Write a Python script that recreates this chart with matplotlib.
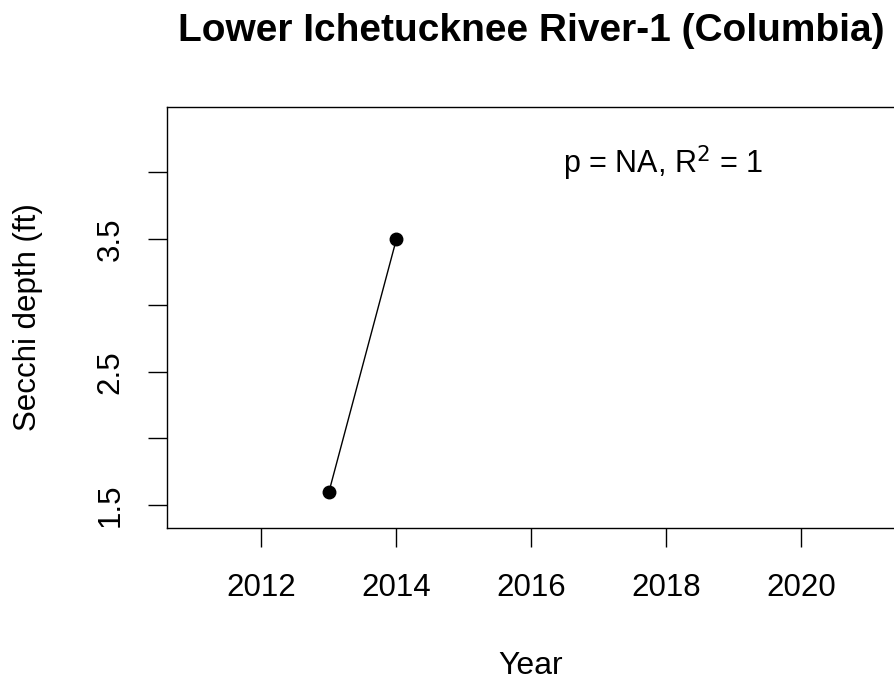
import matplotlib
matplotlib.use("Agg")
import matplotlib.pyplot as plt

years = [2013, 2014]
secchi = [1.6, 3.5]

x_ticks = [2012, 2014, 2016, 2018, 2020]
y_ticks = [1.5, 2.0, 2.5, 3.0, 3.5, 4.0]
y_labels = ["1.5", "", "2.5", "", "3.5", ""]

plt.rcParams['font.family'] = ['Liberation Sans', 'DejaVu Sans']

fig = plt.figure(figsize=(8.95, 6.82), dpi=100)
# axes box: left 167px, top 107px, bottom 528px, right ~896px
ax = fig.add_axes([167/895, 1 - 528/682, (896 - 167)/895, (528 - 107)/682])

ax.plot(years, secchi, '-', color='black', linewidth=1.0)
ax.plot(years, secchi, 'o', color='black', markersize=9)

ax.set_xlim(2010.6, 2021.4)
ax.set_ylim(1.327, 4.49)
ax.set_xticks(x_ticks)
ax.set_xticklabels([str(y) for y in x_ticks])
ax.set_yticks(y_ticks)
ax.set_yticklabels(y_labels, rotation=90, va='center')

ax.tick_params(axis='both', length=13.7, width=1.0, labelsize=22.5)
ax.tick_params(axis='x', pad=18.5)
ax.tick_params(axis='y', pad=16)
for s in ax.spines.values():
    s.set_linewidth(1.0)

ax.text(0.68, 0.867, r"p = NA, R$^2$ = 1", transform=ax.transAxes,
        ha='center', va='center', fontsize=22)

fig.text(531/895, 1 - 31/682, "Lower Ichetucknee River-1 (Columbia)",
         ha='center', va='center', fontsize=28, fontweight='bold')
fig.text(531/895, 1 - 666/682, "Year", ha='center', va='center', fontsize=23)
fig.text(28/895, 1 - 317/682, "Secchi depth (ft)", ha='center', va='center',
         rotation=90, fontsize=22.5)

fig.savefig("out.png", dpi=100)
